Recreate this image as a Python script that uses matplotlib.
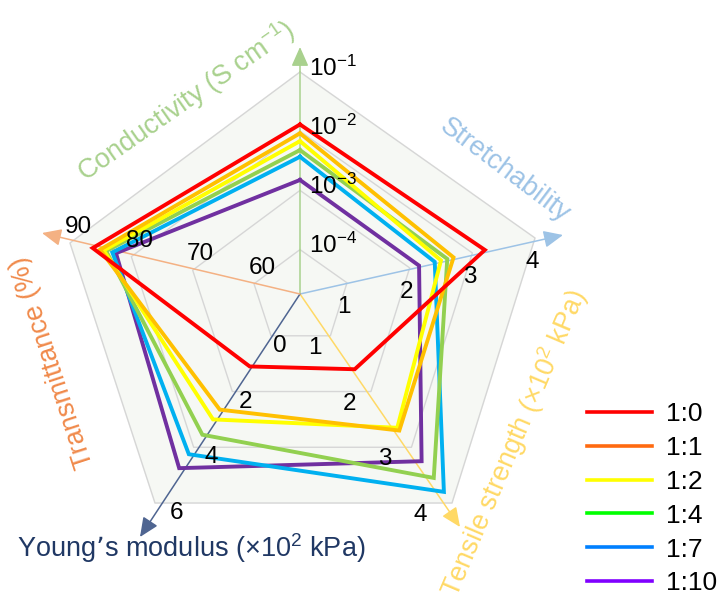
import numpy as np
import matplotlib
matplotlib.use('Agg')
import matplotlib.pyplot as plt
from matplotlib.lines import Line2D

plt.rcParams['font.family'] = ['Liberation Sans', 'DejaVu Sans']
plt.rcParams['mathtext.default'] = 'regular'

# PEDOT:PSS ratio series
ratios = ['1:0', '1:1', '1:2', '1:4', '1:7', '1:10']
conductivity = [1.3e-2, 9.2e-3, 6.8e-3, 4.8e-3, 3.7e-3, 1.5e-3]   # S cm-1
stretchability = [3.2, 2.7, 2.5, 2.6, 2.4, 2.15]
tensile = [1.6, 2.7, 2.65, 3.55, 3.8, 3.25]        # x10^2 kPa
youngs = [1.1, 2.65, 3.0, 3.55, 4.25, 4.75]        # x10^2 kPa
transmittance = [86.3, 85.1, 84.5, 84.1, 83.1, 82.5]  # %

line_colors = ['#ff0000', '#ffc000', '#ffff00', '#92d050', '#00b0f0', '#7030a0']
legend_colors = ['#ff0000', '#ff6a10', '#ffff00', '#00ff00', '#0080ff', '#8000ff']

cond_ticks = ['10$^{-4}$', '10$^{-3}$', '10$^{-2}$', '10$^{-1}$']
stretch_ticks = ['1', '2', '3', '4']
tensile_ticks = ['1', '2', '3', '4']
young_ticks = ['0', '2', '4', '6']
trans_ticks = ['60', '70', '80', '90']

# ring scale per axis: (first ring value, step, log)
scales = [(-4, 1, True), (1, 1, False), (1, 1, False), (0, 2, False), (60, 10, False)]
series = [conductivity, stretchability, tensile, youngs, transmittance]

# drawing frame in pixels (tilted pentagon)
center = np.array([300.0, 294.0])
verts = np.array([[0, -222], [235, -56], [152, 209], [-145, 209], [-230, -51]], float)
tips = np.array([[0, -247], [263, -59], [160, 233], [-160, 243], [-258, -61]], float)
rings = (np.arange(4) + 0.75) / 3.75


def frac(v, k):
    first, step, use_log = scales[k]
    x = np.log10(v) if use_log else v
    return ((x - first) / step + 0.75) / 3.75


fig = plt.figure(figsize=(7.25, 6.01), dpi=100)
ax = fig.add_axes([0, 0, 1, 1])
ax.set_xlim(0, 725)
ax.set_ylim(601, 0)
ax.axis('off')

outer = center + verts
ax.fill(outer[:, 0], outer[:, 1], color='#f6f8f4', zorder=0)
for r in rings:
    p = center + r * verts
    p = np.vstack([p, p[:1]])
    ax.plot(p[:, 0], p[:, 1], color='#d6d6d6', lw=1.0, zorder=1)

axis_colors = ['#a9d18e', '#9dc3e6', '#ffd966', '#4f6591', '#f4b183']
for k in range(5):
    ax.annotate('', xy=center + tips[k], xytext=center,
                arrowprops=dict(arrowstyle='-|>,head_length=0.9,head_width=0.4',
                                color=axis_colors[k], lw=1.1, mutation_scale=13,
                                shrinkA=0, shrinkB=0), zorder=2)

# series polygons, 1:0 on top
for i in reversed(range(len(ratios))):
    pts = np.array([center + frac(series[k][i], k) * verts[k] for k in range(5)])
    pts = np.vstack([pts, pts[:1]])
    ax.plot(pts[:, 0], pts[:, 1], color=line_colors[i], lw=2.8,
            solid_joinstyle='miter', zorder=3 + (len(ratios) - i))

# ring labels
fs = 17.5
for j, r in enumerate(rings):
    p = center + r * verts
    ax.text(p[0][0] + 9, p[0][1] - 4, cond_ticks[j], fontsize=fs, ha='left', va='center', zorder=10)
    ax.text(p[1][0] - 3, p[1][1] + 24, stretch_ticks[j], fontsize=fs, ha='center', va='center', zorder=10)
    ax.text(p[2][0] - 12 - 20 * r, p[2][1] + 12, tensile_ticks[j], fontsize=fs, ha='center', va='center', zorder=10)
    ax.text(p[3][0] + 5 + 17 * r, p[3][1] + 10, young_ticks[j], fontsize=fs, ha='center', va='center', zorder=10)
    ax.text(p[4][0] + 8, p[4][1] - 16, trans_ticks[j], fontsize=fs, ha='center', va='center', zorder=10)

# axis titles
tfs = 19.5
ax.text(186, 101, 'Conductivity (S cm$^{-1}$)', color='#a9d18e', fontsize=tfs,
        rotation=35, ha='center', va='center', rotation_mode='anchor')
ax.text(505, 170, 'Stretchability', color='#9dc3e6', fontsize=tfs,
        rotation=-37, ha='center', va='center', rotation_mode='anchor')
ax.text(514, 443, 'Tensile strength (\u00d710$^2$ kPa)', color='#ffd966', fontsize=tfs,
        rotation=67, ha='center', va='center', rotation_mode='anchor')
ax.text(191, 548, 'Young\u2019s modulus (\u00d710$^2$ kPa)', color='#203864', fontsize=tfs,
        ha='center', va='center')
ax.text(53, 362, 'Transmittance (%)', color='#f08a4b', fontsize=tfs,
        rotation=108, ha='center', va='center', rotation_mode='anchor')

handles = [Line2D([], [], color=c, lw=2.6) for c in legend_colors]
ax.legend(handles, ratios, loc='upper left', bbox_to_anchor=(587 / 725, 1 - 402 / 601),
          frameon=False, fontsize=19, handlelength=2.46, handletextpad=0.55,
          labelspacing=0.375, borderpad=0, borderaxespad=0)

fig.savefig('out.png', dpi=100)
